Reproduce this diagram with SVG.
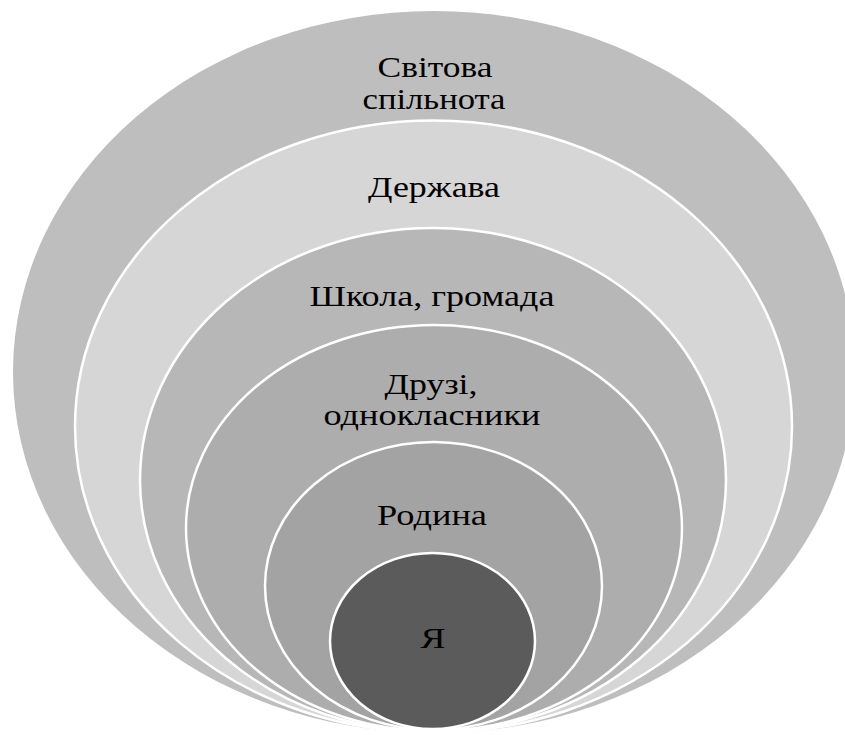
<svg xmlns="http://www.w3.org/2000/svg" width="845" height="735" viewBox="0 0 845 735">
<style>
.ring{stroke:#ffffff;stroke-width:2.5}
.lbl{font-family:'Liberation Serif','DejaVu Serif',serif;font-size:30px;fill:#000000;text-anchor:middle}
</style>
<rect width="845" height="735" fill="#ffffff"/>
<g id="node-world">
<ellipse cx="434" cy="372" rx="421" ry="361" fill="#bebebe"/>
<text class="lbl" x="435" y="77" textLength="115" lengthAdjust="spacingAndGlyphs">Світова</text>
<text class="lbl" x="434" y="109" textLength="143" lengthAdjust="spacingAndGlyphs">спільнота</text>
</g>
<g id="node-state">
<ellipse class="ring" cx="433.5" cy="426.5" rx="358.5" ry="306" fill="#d6d6d6"/>
<text class="lbl" x="434" y="197" textLength="132" lengthAdjust="spacingAndGlyphs">Держава</text>
</g>
<g id="node-school">
<ellipse class="ring" cx="433" cy="480" rx="293" ry="252" fill="#b7b7b7"/>
<text class="lbl" x="432" y="306" textLength="245" lengthAdjust="spacingAndGlyphs">Школа, громада</text>
</g>
<g id="node-friends">
<ellipse class="ring" cx="434" cy="528" rx="248" ry="203" fill="#adadad"/>
<text class="lbl" x="431" y="394" textLength="93" lengthAdjust="spacingAndGlyphs">Друзі,</text>
<text class="lbl" x="432" y="425" textLength="217" lengthAdjust="spacingAndGlyphs">однокласники</text>
</g>
<g id="node-family">
<ellipse class="ring" cx="433.5" cy="586" rx="168.5" ry="144" fill="#a3a3a3"/>
<text class="lbl" x="432" y="525" textLength="110" lengthAdjust="spacingAndGlyphs">Родина</text>
</g>
<g id="node-me">
<ellipse class="ring" cx="432.5" cy="641" rx="102.5" ry="88" fill="#5b5b5b"/>
<text class="lbl" x="433" y="648" textLength="25" lengthAdjust="spacingAndGlyphs">Я</text>
</g>
<g id="connectors"/>
</svg>
